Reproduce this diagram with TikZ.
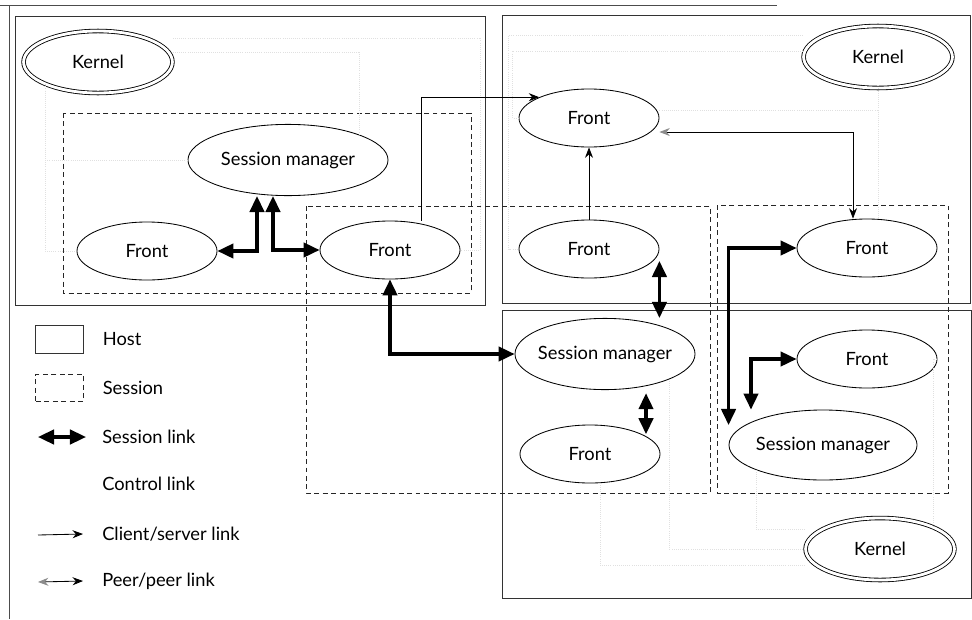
\documentclass[tikz,border=0pt]{standalone}
\usepackage{fontspec}
\setmainfont{Lato}
\usepackage{tikz}
\usetikzlibrary{arrows.meta, shapes.geometric, positioning}

\begin{document}
\begin{tikzpicture}[x=0.025cm, y=-0.025cm,
		every node/.append style={font=\fontsize{13}{15}\selectfont},
		host/.style={draw=black!80, line width=0.6pt},
		session/.style={draw=black!85, line width=0.6pt, dash pattern=on 3.5pt off 2.5pt},
		front/.style={ellipse, draw, line width=0.6pt, inner xsep=-4mm, minimum width=3.5cm, minimum height=1.45cm},
		manager/.style={front, minimum width=#1, minimum height=1.78cm},
		kernel/.style={ellipse, draw, line width=0.6pt, double, double distance=2pt, minimum width=3.72cm, minimum height=1.55cm},
		lbl/.style={inner sep=0pt, anchor=west},
		slink/.style={line width=2.2pt, {Triangle[length=4mm,width=3.6mm]}-{Triangle[length=4mm,width=3.6mm]}},
		cslink/.style={line width=0.6pt, -{Stealth[length=2.6mm,width=2mm]}},
		pplink/.style={line width=0.6pt, {Stealth[length=2.6mm,width=2mm,black!45]}-{Stealth[length=2.6mm,width=2mm]}},
		ctrl/.style={draw=black!12, densely dotted, line width=0.5pt}]
	\useasboundingbox (0,0) rectangle (972,619);
	\draw[black!70, line width=0.5pt] (0,5) -- (777,5) (9,5) -- (9,619);

	\draw[host] (15,16) rectangle (485,305);
	\draw[host] (502,15) rectangle (970,303);
	\draw[host] (502,310) rectangle (971,598);
	\draw[session] (63,113) rectangle (471,293);
	\draw[session] (306,206) rectangle (710,493);
	\draw[session] (717,205) rectangle (948,493);

	\node[kernel] (k1) at (98,62) {Kernel};
	\node[kernel] (k2) at (878,57) {Kernel};
	\node[kernel] (k3) at (880,549) {Kernel};
	\node[manager=5cm] (sm1) at (288,160) {Session manager};
	\node[manager=4.5cm] (sm2) at (605,354) {Session manager};
	\node[manager=4.7cm, minimum height=1.75cm] (sm3) at (823,445) {Session manager};
	\node[front] (fl) at (147,251) {Front};
	\node[front] (fr1) at (390,250) {Front};
	\node[front] (ft) at (589,118) {Front};
	\node[front] (fm) at (589,249) {Front};
	\node[front] (fr2) at (867,248) {Front};
	\node[front] (fb) at (590,454) {Front};
	\node[front] (fb3) at (867,359) {Front};

	\draw[ctrl] (k1.south west) |- (sm1.west);
	\draw[ctrl] (k1.south west) |- (fl.west);
	\draw[ctrl] ([yshift=6mm]k1.east) -| ([xshift=5mm]fr1.east) -- (fr1.east);
	\draw[ctrl] ([yshift=2.5mm]k1.east) -| (sm1.north east);
	\draw[ctrl] ([yshift=5.5mm]k2.west) -| ([xshift=-2.5mm]fm.west) -- (fm.west);
	\draw[ctrl] ([yshift=1.5mm]k2.west) -| ([xshift=-1.5mm]ft.west) -- (ft.west);
	\draw[ctrl] ([yshift=2mm]ft.east) -- ([yshift=2mm]ft.east -| k2.south);
	\draw[ctrl] (k2.south) -- (k2.south |- fr2.north);
	\draw[ctrl] ([yshift=-4mm]k3.west) -| ([xshift=2.5mm]fb.south);
	\draw[ctrl] (k3.west) -| (sm2.south east);
	\draw[ctrl] ([yshift=5mm]k3.west) -| (sm3.south west);
	\draw[ctrl] (k3.north east) |- (fb3.east);

	\draw[slink] (fl.east) -| ([xshift=-7.75mm]sm1.south);
	\draw[slink] ([xshift=-3.75mm]sm1.south) |- (fr1.west);
	\draw[slink] (fr1.south) |- (sm2.west);
	\draw[slink] ([yshift=-3mm]fm.east) -- (fm.east |- sm2.north);
	\draw[slink] ([xshift=10.25mm,yshift=-0.8mm]sm2.south) -- ([xshift=10.25mm,yshift=-2.4mm]sm2.south |- fb.north);
	\draw[slink] (fr2.west) -| ([yshift=5mm]sm3.west);
	\draw[slink] (fb3.west) -| ([xshift=-18mm]sm3.north);

	\draw[cslink] ([xshift=7.75mm]fr1.north) |- (ft.north west);
	\path (fm) edge[cslink] (ft);
	\draw[pplink] ([yshift=-3.5mm]ft.east) -| ([xshift=-3.5mm]fr2.north);

	\node[host, minimum width=1.18cm, minimum height=0.7cm] (khost) at (59.5,339) {};
	\node[lbl, right=4.75mm of khost] {Host};
	\node[session, minimum width=1.18cm, minimum height=0.68cm] (ksess) at (59.5,388) {};
	\node[lbl, right=4.75mm of ksess] {Session};
	\node[lbl] (tslink) at (102,437) {Session link};
	\node[lbl] (tctrl) at (102,484) {Control link};
	\node[lbl] (tcs) at (102,534) {Client/server link};
	\node[lbl] (tpp) at (102,581) {Peer/peer link};
	\coordinate (kslink) at (38,437);
	\coordinate (kcs) at (38,535);
	\coordinate (kpp) at (38,582);
	\draw[slink] (kslink) -- ([xshift=-4mm]tslink.west);
	\draw[cslink] (kcs) -- ([xshift=-4.75mm]tcs.west);
	\draw[pplink] (kpp) -- ([xshift=-4.75mm]tpp.west);
\end{tikzpicture}
\end{document}
